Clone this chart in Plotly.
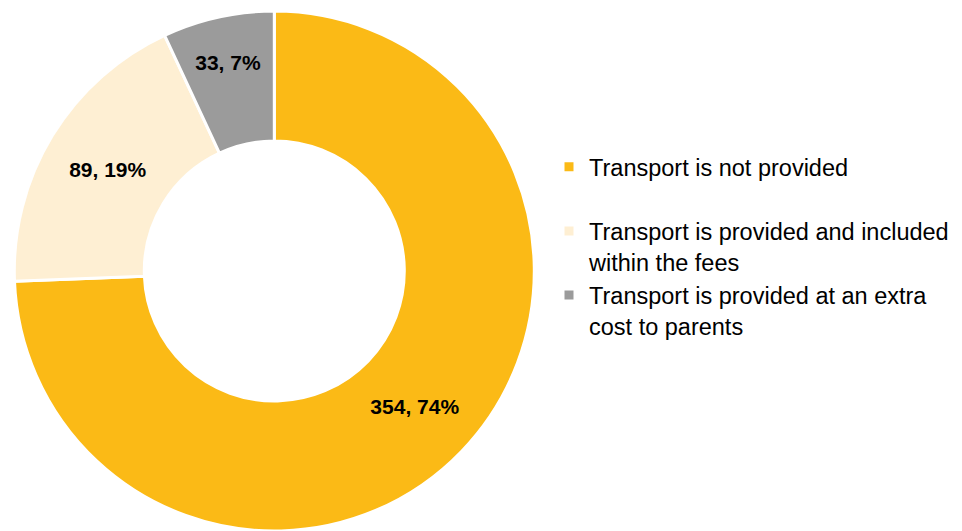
import plotly.graph_objects as go

# Transport provision survey counts
categories = [
    "Transport is not provided<br> ",
    "Transport is provided and included<br>within the fees",
    "Transport is provided at an extra<br>cost to parents",
]
counts = [354, 89, 33]
colors = ["#FBBA16", "#FEEFD3", "#9B9B9B"]

W, H = 962, 531

fig = go.Figure(
    go.Pie(
        labels=categories,
        values=counts,
        sort=False,
        direction="clockwise",
        rotation=0,
        hole=0.5,
        marker=dict(colors=colors, line=dict(color="white", width=3)),
        texttemplate="<b>%{value}, %{percent:.0%}</b>",
        textposition="inside",
        insidetextorientation="horizontal",
        textfont=dict(family="Liberation Sans, Arial, sans-serif", size=21, color="black"),
        domain=dict(x=[13.3 / W, 535.3 / W], y=[0.0, 1 - 11 / H]),
        hoverinfo="label+value+percent",
    )
)

fig.update_layout(
    width=W,
    height=H,
    margin=dict(l=0, r=0, t=0, b=0),
    paper_bgcolor="white",
    plot_bgcolor="white",
    font=dict(family="Liberation Sans, Arial, sans-serif", color="black"),
    showlegend=True,
    legend=dict(
        x=549 / W,
        xanchor="left",
        y=1 - 145 / H,
        yanchor="top",
        valign="top",
        font=dict(size=23.5, color="black"),
        bgcolor="rgba(0,0,0,0)",
    ),
)

fig.write_html("out.html")
